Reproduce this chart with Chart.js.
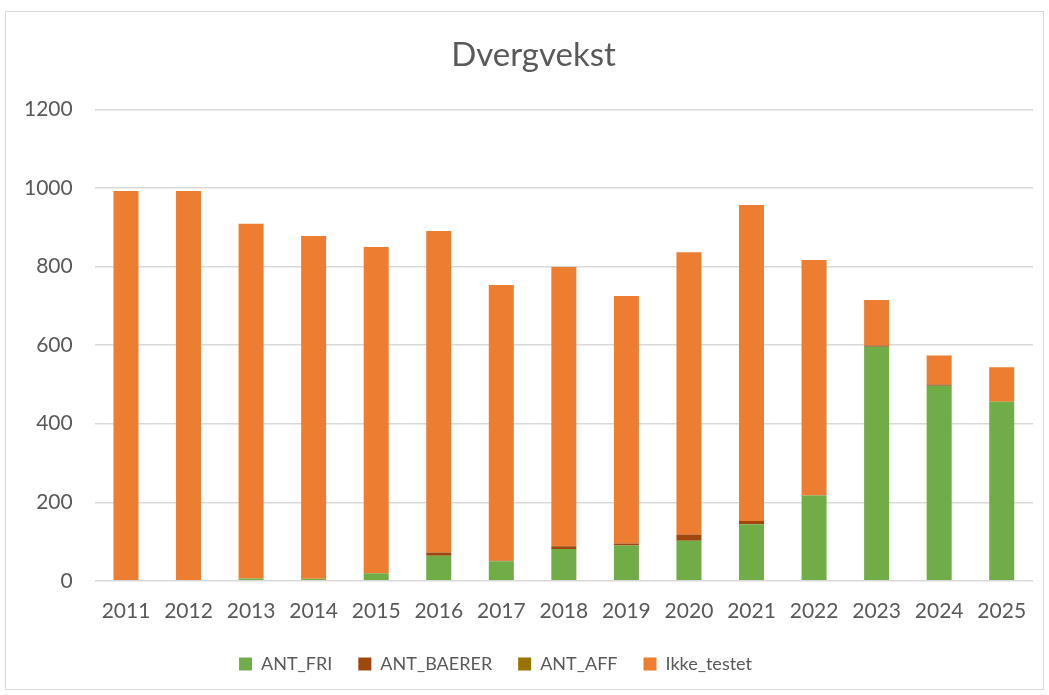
<!DOCTYPE html>
<html>
<head>
<meta charset="utf-8">
<script src="https://cdn.jsdelivr.net/npm/chart.js"></script>
<style>
  html, body { margin: 0; padding: 0; background: #fff; }
  #wrap { position: relative; width: 1049px; height: 695px; }
</style>
</head>
<body>
<div id="wrap"><canvas id="dvergChart" width="1049" height="695"></canvas></div>
<script>
// data
const years = ["2011", "2012", "2013", "2014", "2015", "2016", "2017", "2018", "2019", "2020", "2021", "2022", "2023", "2024", "2025"];
const antFri = [0, 0, 6, 5, 19, 64, 50, 81, 90, 102, 144, 217, 596, 497, 456];
const antBaerer = [0, 0, 0, 0, 0, 8, 1, 7, 5, 16, 8, 1, 3, 3, 0];
const antAff = [0, 0, 0, 0, 0, 0, 0, 0, 0, 0, 0, 0, 0, 0, 0];
const totals = [993, 993, 909, 878, 850, 891, 753, 799, 725, 837, 957, 817, 715, 574, 544];
const ikkeTestet = totals.map((t, i) => t - antFri[i] - antBaerer[i] - antAff[i]);
const yTicks = [0, 200, 400, 600, 800, 1000, 1200];

const txt = "#595959";
const fam = "Lato, 'Open Sans', sans-serif";

// grå ramme rundt hele diagrammet (som i Excel)
const frame = {
    id: "frame",
    beforeDraw(chart) {
        const c = chart.ctx;
        c.save();
        c.fillStyle = "#fff";
        c.fillRect(0, 0, chart.width, chart.height);
        c.strokeStyle = "#d9d9d9";
        c.lineWidth = 1;
        c.strokeRect(5.5, 11.5, 1038, 678);
        c.restore();
    }
};

// finjuster plassering av legende og tittel
const nudge = {
    id: "nudge",
    afterLayout(chart) {
        const lg = chart.legend;
        if (lg) { lg.top -= 5; lg.bottom -= 5; lg.left -= 22; lg.right -= 22; }
        const tb = chart.titleBlock;
        if (tb) { tb.left += 16; tb.right += 16; }
    }
};

function ds(label, data, color) {
    return { label: label, data: data, backgroundColor: color, borderWidth: 0,
             categoryPercentage: 0.8, barPercentage: 0.5 };
}

new Chart(document.getElementById("dvergChart"), {
    type: "bar",
    data: {
        labels: years,
        datasets: [
            ds("ANT_FRI", antFri, "#70AD47"),
            ds("ANT_BAERER", antBaerer, "#9E480E"),
            ds("ANT_AFF", antAff, "#997300"),
            ds("Ikke_testet", ikkeTestet, "#ED7D31")
        ]
    },
    options: {
        responsive: false,
        animation: false,
        layout: { padding: { left: 2, right: 16, top: 8, bottom: 7 } },
        plugins: {
            title: {
                display: true, text: "Dvergvekst", color: txt,
                font: { family: fam, size: 33, weight: "normal" },
                padding: { top: 28, bottom: 34 }
            },
            legend: {
                position: "bottom",
                labels: {
                    color: txt, boxWidth: 13, boxHeight: 13, padding: 26,
                    font: { family: fam, size: 18 }
                }
            },
            tooltip: { enabled: false }
        },
        scales: {
            x: {
                stacked: true,
                grid: { display: false },
                border: { display: false },
                ticks: { color: txt, padding: 10, font: { family: fam, size: 21 } }
            },
            y: {
                stacked: true,
                min: 0, max: 1200,
                afterBuildTicks(axis) { axis.ticks = yTicks.map(v => ({ value: v })); },
                grid: { color: "#d9d9d9", lineWidth: 1.5, drawTicks: false },
                border: { display: false },
                ticks: { color: txt, padding: 22, font: { family: fam, size: 21 },
                         callback: v => String(v) }
            }
        }
    },
    plugins: [frame, nudge]
});
</script>
</body>
</html>
